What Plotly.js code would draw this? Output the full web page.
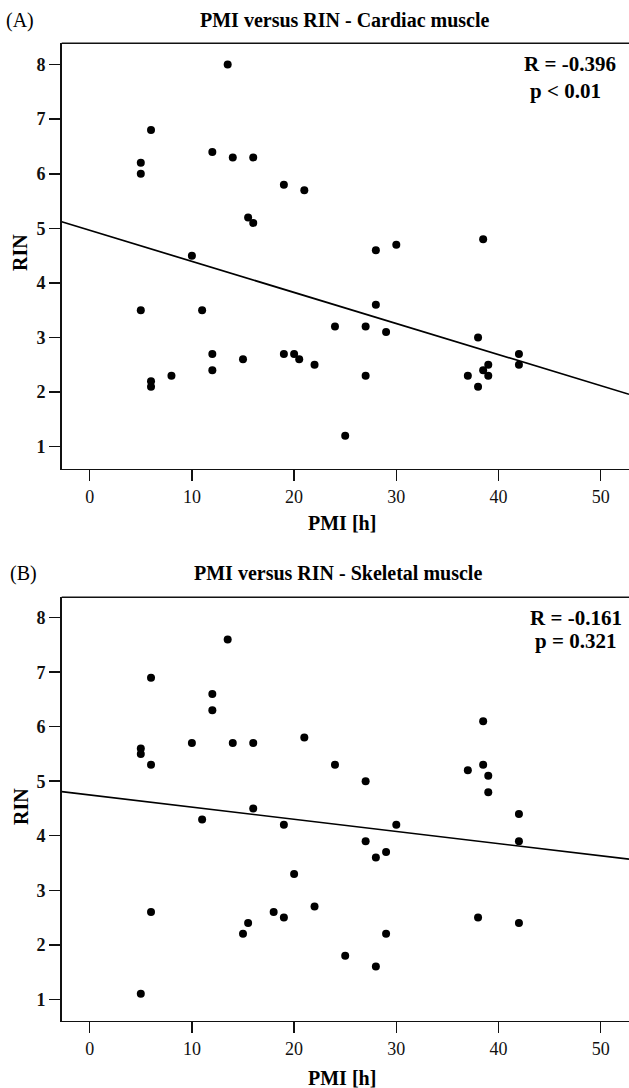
<!DOCTYPE html>
<html>
<head>
<meta charset="utf-8">
<script src="https://cdn.plot.ly/plotly-3.0.1.min.js"></script>
<style>
  html, body { margin: 0; padding: 0; background: #ffffff; }
  #chart { width: 629px; height: 1088px; }
</style>
</head>
<body>
<div id="chart"></div>
<script>
// ---- Data: Panel A (cardiac muscle) ----
const cardiacPMI = [13.5, 6, 5, 5, 12, 14, 16, 19, 21, 15.5, 16, 10, 28, 30, 38.5, 5, 11, 28, 24, 27, 29, 38,
                    12, 15, 19, 20, 20.5, 22, 42, 42, 39, 38.5, 39, 37, 27, 12, 8, 6, 6, 38, 25];
const cardiacRIN = [8.0, 6.8, 6.2, 6.0, 6.4, 6.3, 6.3, 5.8, 5.7, 5.2, 5.1, 4.5, 4.6, 4.7, 4.8, 3.5, 3.5, 3.6, 3.2, 3.2, 3.1, 3.0,
                    2.7, 2.6, 2.7, 2.7, 2.6, 2.5, 2.7, 2.5, 2.5, 2.4, 2.3, 2.3, 2.3, 2.4, 2.3, 2.2, 2.1, 2.1, 1.2];
// fitted regression line (end points)
const cardiacFitPMI = [-2.74, 52.77];
const cardiacFitRIN = [5.12, 1.96];

// ---- Data: Panel B (skeletal muscle) ----
const skeletalPMI = [13.5, 6, 12, 12, 38.5, 21, 5, 5, 6, 10, 14, 16, 24, 27, 37, 38.5, 39, 39, 16, 11, 19, 30, 42, 42,
                     27, 28, 29, 20, 6, 18, 19, 22, 38, 15.5, 15, 25, 28, 29, 42, 5];
const skeletalRIN = [7.6, 6.9, 6.6, 6.3, 6.1, 5.8, 5.6, 5.5, 5.3, 5.7, 5.7, 5.7, 5.3, 5.0, 5.2, 5.3, 5.1, 4.8, 4.5, 4.3, 4.2, 4.2, 4.4, 3.9,
                     3.9, 3.6, 3.7, 3.3, 2.6, 2.6, 2.5, 2.7, 2.5, 2.4, 2.2, 1.8, 1.6, 2.2, 2.4, 1.1];
const skeletalFitPMI = [-2.74, 52.77];
const skeletalFitRIN = [4.81, 3.57];

// ---- Tick labels ----
const xTickVals = [0, 10, 20, 30, 40, 50];
const yTickVals = [1, 2, 3, 4, 5, 6, 7, 8];

// ---- Texts ----
const titleA = 'PMI versus RIN - Cardiac muscle';
const titleB = 'PMI versus RIN - Skeletal muscle';
const statA = ['R = -0.396', 'p < 0.01'];
const statB = ['R = -0.161', 'p = 0.321'];

// ---- Layout helpers ----
const W = 629, H = 1088;
const px = v => v / W;
const py = v => 1 - v / H;
const SERIF = '"Liberation Serif", "Times New Roman", serif';

const markerStyle = { color: '#000000', size: 8, line: { width: 0 } };
const lineStyle = { color: '#000000', width: 1.7 };

const traces = [
  { x: cardiacPMI, y: cardiacRIN, type: 'scatter', mode: 'markers', marker: markerStyle, xaxis: 'x', yaxis: 'y', showlegend: false, hoverinfo: 'x+y' },
  { x: cardiacFitPMI, y: cardiacFitRIN, type: 'scatter', mode: 'lines', line: lineStyle, xaxis: 'x', yaxis: 'y', showlegend: false, hoverinfo: 'skip' },
  { x: skeletalPMI, y: skeletalRIN, type: 'scatter', mode: 'markers', marker: markerStyle, xaxis: 'x2', yaxis: 'y2', showlegend: false, hoverinfo: 'x+y' },
  { x: skeletalFitPMI, y: skeletalFitRIN, type: 'scatter', mode: 'lines', line: lineStyle, xaxis: 'x2', yaxis: 'y2', showlegend: false, hoverinfo: 'skip' }
];

const xDomain = [px(61.7), 1];
const yDomA = [py(468.5), py(43.3)];
const yDomB = [py(1020.7), py(597.3)];

function xAxisDef(anchor) {
  return {
    anchor: anchor, domain: xDomain, range: [-2.74, 52.77],
    tickmode: 'array', tickvals: xTickVals, ticktext: xTickVals.map(String),
    ticks: 'outside', ticklen: 11, tickwidth: 1.5, tickcolor: '#111',
    showline: true, linecolor: '#111', linewidth: 1.5,
    showgrid: false, zeroline: false,
    tickfont: { family: SERIF, size: 18, color: '#111' }
  };
}
function yAxisDef(anchor, dom, rng) {
  return {
    anchor: anchor, domain: dom, range: rng,
    tickmode: 'array', tickvals: yTickVals, ticktext: yTickVals.map(v => '<b>' + v + '</b>'),
    ticks: 'outside', ticklen: 11, tickwidth: 1.5, tickcolor: '#111',
    showline: true, linecolor: '#111', linewidth: 1.5,
    showgrid: false, zeroline: false,
    tickfont: { family: SERIF, size: 18, color: '#111' }
  };
}

function ann(text, x, y, size, bold, extra) {
  return Object.assign({
    text: bold ? '<b>' + text + '</b>' : text,
    xref: 'paper', yref: 'paper', x: px(x), y: py(y),
    xanchor: 'center', yanchor: 'middle', showarrow: false,
    font: { family: SERIF, size: size, color: '#000' }
  }, extra || {});
}

const annotations = [
  ann('(A)', 19.7, 20, 20, false),
  ann(titleA, 345, 20, 20, true),
  ann(statA[0], 618, 64, 21, true, { xanchor: 'right' }),
  ann(statA[1], 528, 91, 21, true, { xanchor: 'left' }),
  ann('RIN', 20, 253, 20, true, { textangle: -90 }),
  ann('PMI [h]', 342, 523, 20, true),

  ann('(B)', 23.5, 573, 20, false),
  ann(titleB, 338, 573, 20, true),
  ann(statB[0], 624, 618, 21, true, { xanchor: 'right' }),
  ann(statB[1], 618, 641, 21, true, { xanchor: 'right' }),
  ann('RIN', 21, 807, 20, true, { textangle: -90 }),
  ann('PMI [h]', 342, 1078, 20, true)
];

const shapes = [
  { type: 'line', xref: 'paper', yref: 'paper', x0: xDomain[0], x1: 1, y0: yDomA[1], y1: yDomA[1], line: { color: '#111', width: 1.5 } },
  { type: 'line', xref: 'paper', yref: 'paper', x0: xDomain[0], x1: 1, y0: yDomB[1], y1: yDomB[1], line: { color: '#111', width: 1.5 } }
];

const layout = {
  width: W, height: H,
  margin: { l: 0, r: 0, t: 0, b: 0, pad: 0 },
  paper_bgcolor: '#ffffff', plot_bgcolor: '#ffffff',
  showlegend: false,
  xaxis: xAxisDef('y'),
  yaxis: yAxisDef('x', yDomA, [0.6, 8.39]),
  xaxis2: xAxisDef('y2'),
  yaxis2: yAxisDef('x2', yDomB, [0.607, 8.374]),
  annotations: annotations,
  shapes: shapes,
  font: { family: SERIF, color: '#000' }
};

Plotly.newPlot('chart', traces, layout, { staticPlot: true, displayModeBar: false });
</script>
</body>
</html>
